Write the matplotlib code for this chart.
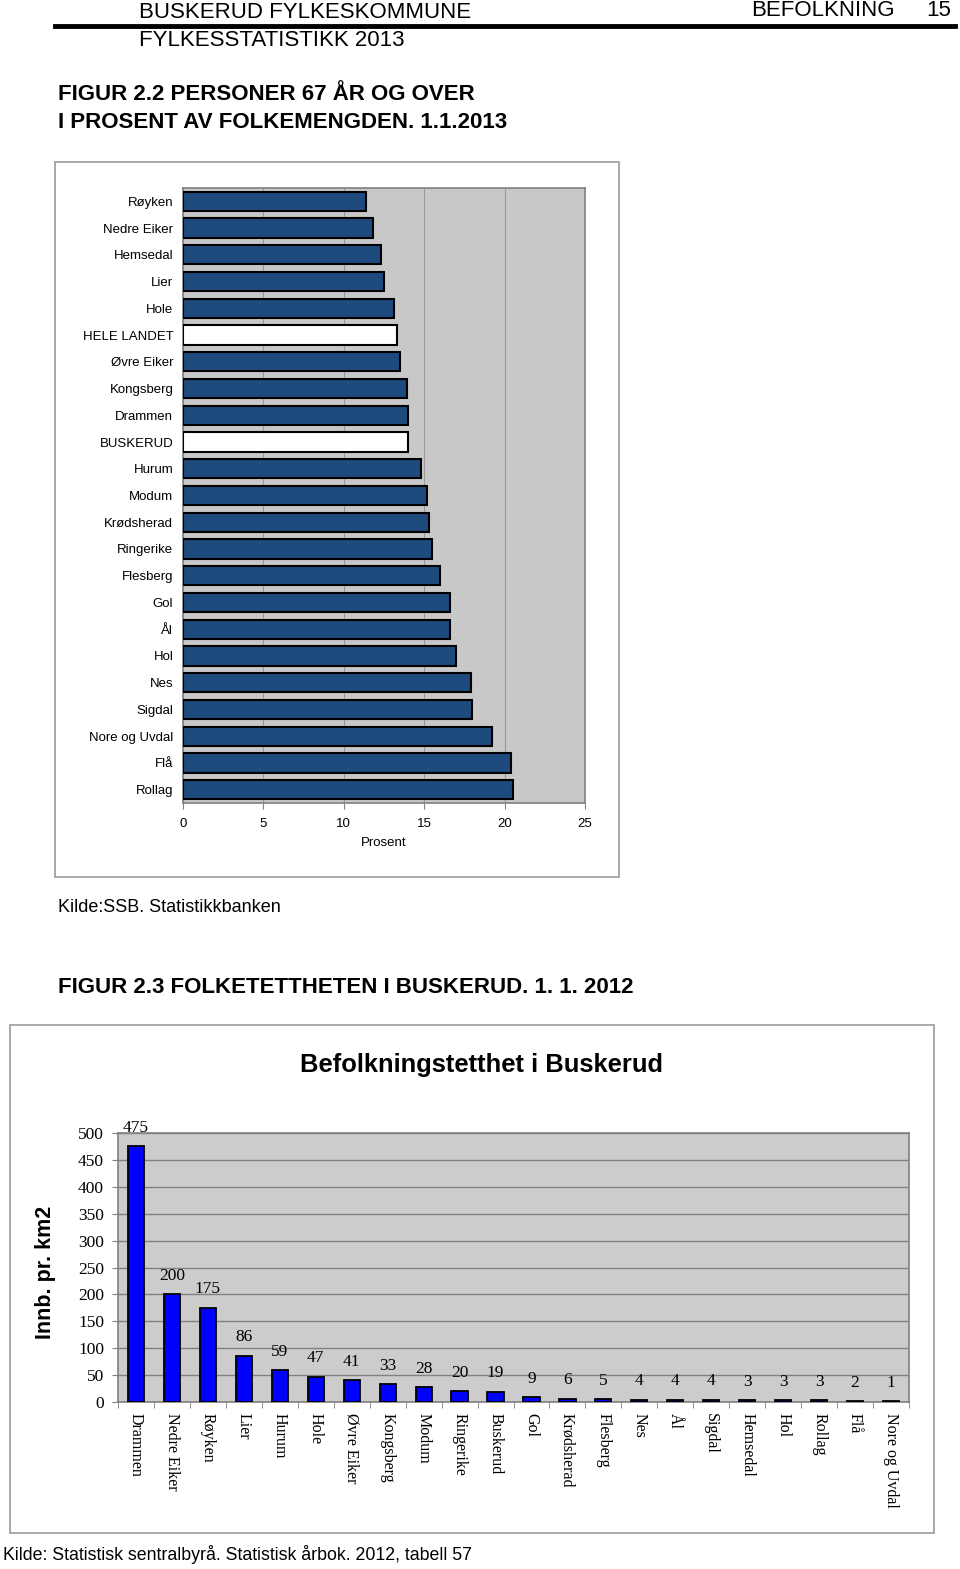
import numpy as np
import matplotlib
matplotlib.use('Agg')
import matplotlib.pyplot as plt
from matplotlib.patches import Rectangle
from matplotlib import font_manager

# --- data ---
# figur 2.2, personer 67 aar og over i prosent
kommuner_67 = ['Røyken', 'Nedre Eiker', 'Hemsedal', 'Lier', 'Hole', 'HELE LANDET',
               'Øvre Eiker', 'Kongsberg', 'Drammen', 'BUSKERUD', 'Hurum', 'Modum',
               'Krødsherad', 'Ringerike', 'Flesberg', 'Gol', 'Ål', 'Hol', 'Nes',
               'Sigdal', 'Nore og Uvdal', 'Flå', 'Rollag']
prosent_67 = [11.4, 11.8, 12.3, 12.5, 13.1, 13.3, 13.5, 13.9, 14.0, 14.0, 14.8, 15.2,
              15.3, 15.5, 16.0, 16.6, 16.6, 17.0, 17.9, 18.0, 19.2, 20.4, 20.5]
hvite = ['HELE LANDET', 'BUSKERUD']
prosent_ticks = [0, 5, 10, 15, 20, 25]

# figur 2.3, befolkningstetthet
kommuner_tett = ['Drammen', 'Nedre Eiker', 'Røyken', 'Lier', 'Hurum', 'Hole', 'Øvre Eiker',
                 'Kongsberg', 'Modum', 'Ringerike', 'Buskerud', 'Gol', 'Krødsherad',
                 'Flesberg', 'Nes', 'Ål', 'Sigdal', 'Hemsedal', 'Hol', 'Rollag', 'Flå',
                 'Nore og Uvdal']
tetthet = [475, 200, 175, 86, 59, 47, 41, 33, 28, 20, 19, 9, 6, 5, 4, 4, 4, 3, 3, 3, 2, 1]
tett_ticks = [0, 50, 100, 150, 200, 250, 300, 350, 400, 450, 500]

W, H = 960, 1569
names = {f.name for f in font_manager.fontManager.ttflist}
SANS = 'Liberation Sans'
NARROW = 'Liberation Sans Narrow' if 'Liberation Sans Narrow' in names else SANS
SERIF = 'Liberation Serif'


def rect(l, t, r, b):
    return [l / W, 1 - b / H, (r - l) / W, (b - t) / H]


def px(x, y):
    return x / W, 1 - y / H


fig = plt.figure(figsize=(W / 100, H / 100), dpi=100)

# header
fig.text(*px(139, 13), 'BUSKERUD FYLKESKOMMUNE', family=NARROW, fontsize=16, va='center')
fig.text(*px(139, 41), 'FYLKESSTATISTIKK 2013', family=NARROW, fontsize=16, va='center')
fig.text(*px(895, 11), 'BEFOLKNING', family=NARROW, fontsize=16, va='center', ha='right')
fig.text(*px(951, 11), '15', family=NARROW, fontsize=16, va='center', ha='right')
fig.add_artist(plt.Line2D([55 / W, 955 / W], [1 - 26 / H, 1 - 26 / H], color='black', lw=3.5))

fig.text(*px(58, 95), 'FIGUR 2.2 PERSONER 67 ÅR OG OVER', family=NARROW, weight='bold',
         fontsize=16, va='center')
fig.text(*px(58, 123), 'I PROSENT AV FOLKEMENGDEN. 1.1.2013', family=NARROW, weight='bold',
         fontsize=16, va='center')

# chart 1 frame
fig.add_artist(Rectangle(px(55, 877), 564 / W, 715 / H, transform=fig.transFigure,
                         fill=False, edgecolor='#999999', lw=1.2))

ax1 = fig.add_axes(rect(183, 188, 585, 803))
ax1.set_facecolor('#c8c8c8')
y = np.arange(len(kommuner_67))
farger = ['white' if k in hvite else '#1f4a7e' for k in kommuner_67]
ax1.barh(y, prosent_67, height=0.72, color=farger, edgecolor='black', lw=1.5, zorder=3)
ax1.set_ylim(len(kommuner_67) - 0.5, -0.5)
ax1.set_xlim(0, 25)
ax1.set_xticks(prosent_ticks)
ax1.set_yticks(y)
ax1.set_yticklabels(kommuner_67, family=SANS, fontsize=9.5)
ax1.set_xticklabels([str(t) for t in prosent_ticks], family=SANS, fontsize=9.5)
ax1.tick_params(axis='y', length=0, pad=7)
ax1.tick_params(axis='x', length=4, color='#808080', pad=7)
ax1.grid(axis='x', color='#999999', lw=0.8, zorder=0)
for s in ax1.spines.values():
    s.set_color('#808080')
    s.set_linewidth(1.2)
ax1.set_xlabel('Prosent', family=SANS, fontsize=9.5, labelpad=5)

fig.text(*px(58, 908), 'Kilde:SSB. Statistikkbanken', family=SANS, fontsize=13, va='center')

fig.text(*px(58, 988), 'FIGUR 2.3 FOLKETETTHETEN I BUSKERUD. 1. 1. 2012', family=NARROW,
         weight='bold', fontsize=16, va='center')

# chart 2 frame
fig.add_artist(Rectangle(px(10, 1533), 924 / W, 508 / H, transform=fig.transFigure,
                         fill=False, edgecolor='#999999', lw=1.2))
fig.text(*px(481, 1065), 'Befolkningstetthet i Buskerud', family=SANS, weight='bold',
         fontsize=18.4, va='center', ha='center')

ax2 = fig.add_axes(rect(118, 1133, 909, 1402))
ax2.set_facecolor('#cccccc')
x = np.arange(len(kommuner_tett))
ax2.bar(x, tetthet, width=0.45, color='#0000ff', edgecolor='black', lw=1.3, zorder=3)
for xi, v in zip(x, tetthet):
    ax2.annotate(str(v), (xi, v), xytext=(0, 7.5), textcoords='offset points',
                 ha='center', va='bottom', family=SERIF, fontsize=12.5)
ax2.set_xlim(-0.5, len(kommuner_tett) - 0.5)
ax2.set_ylim(0, 500)
ax2.set_yticks(tett_ticks)
ax2.set_yticklabels([str(t) for t in tett_ticks], family=SERIF, fontsize=12.5)
ax2.set_xticks(x)
ax2.set_xticklabels(kommuner_tett, family=SERIF, fontsize=11.5, rotation=270,
                    ha='center', va='top')
ax2.set_xticks(np.arange(-0.5, len(kommuner_tett)), minor=True)
ax2.tick_params(axis='x', which='major', length=0, pad=8)
ax2.tick_params(axis='x', which='minor', length=4, color='#808080')
ax2.tick_params(axis='y', length=4, color='#808080', pad=6)
ax2.grid(axis='y', color='#808080', lw=1.0, zorder=0)
for s in ax2.spines.values():
    s.set_color('#808080')
    s.set_linewidth(1.2)
fig.text(*px(45, 1272), 'Innb. pr. km2', family=SANS, weight='bold', fontsize=15.5,
         rotation=90, va='center', ha='center')

fig.text(*px(3, 1555), 'Kilde: Statistisk sentralbyrå. Statistisk årbok. 2012, tabell 57',
         family=NARROW, fontsize=12.8, va='center')

fig.savefig('out.png', dpi=100)
